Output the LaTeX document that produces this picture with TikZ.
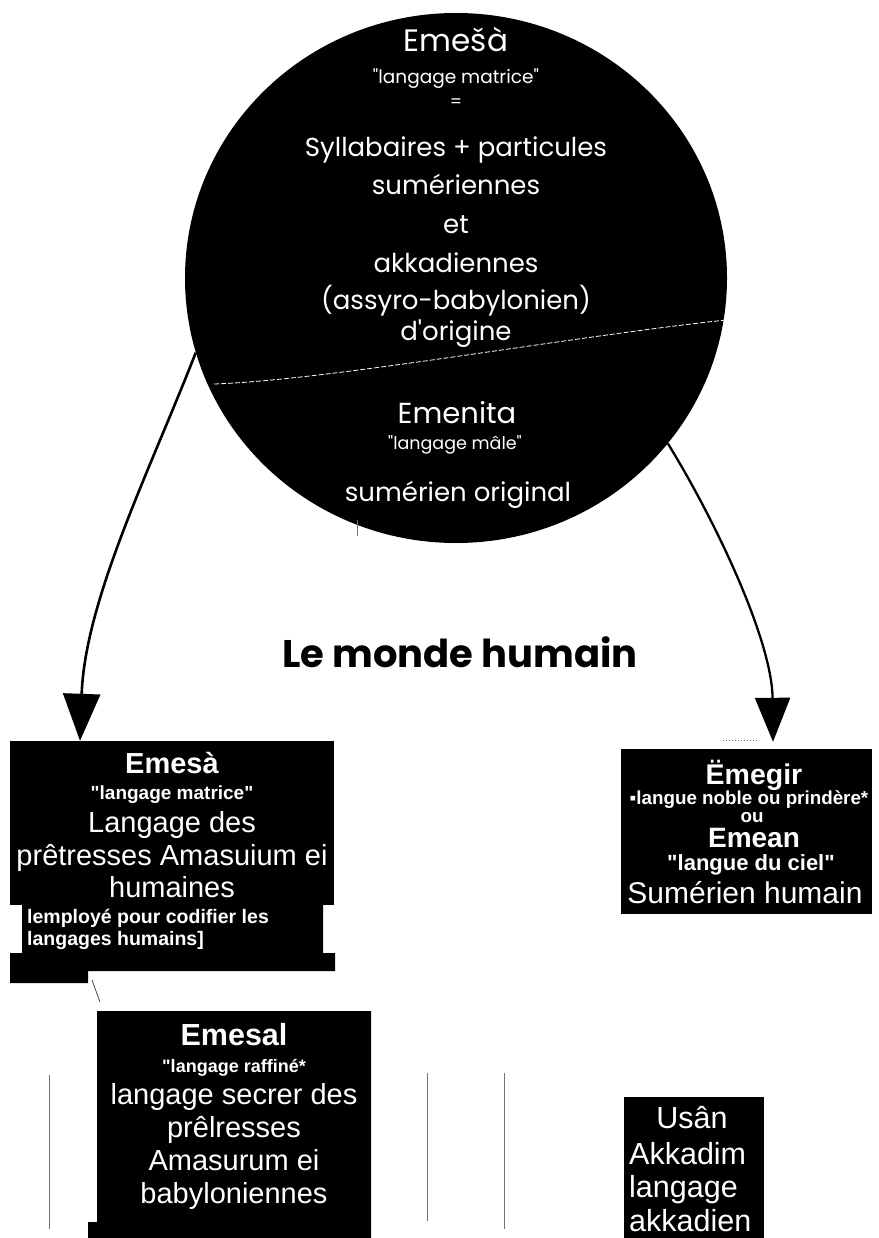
\documentclass[tikz,border=0pt]{standalone}
\usepackage{fontspec}
\setmainfont{Liberation Sans}[Ligatures=TeXOff]
\newfontfamily\pop{Poppins}[Ligatures=TeXOff]
\usetikzlibrary{arrows.meta,shapes.geometric}
\newcommand\myfs[1]{\fontsize{#1}{#1}\selectfont}
\begin{document}
\begin{tikzpicture}[x=1pt,y=-1pt,
  t/.style={anchor=base, inner sep=0, text=white, align=center},
  tl/.style={anchor=base west, inner sep=0, text=white},
  blk/.style={fill=black, draw=none, inner sep=0},
  arr/.style={line width=2.6pt, -{Triangle[length=47pt,width=37pt]}},
  arrR/.style={line width=2.3pt, -{Triangle[length=44pt,width=35pt]}},
  vline/.style={draw=black!55, line width=0.9pt}]
\useasboundingbox (0,0) rectangle (878,1238);

% ---- circle ----
\node[ellipse, fill=black, minimum width=542pt, minimum height=530pt, inner sep=0] (circ) at (456,278) {};
\draw[white, line width=0.8pt, dash pattern=on 5pt off 2pt]
  (214,384) .. controls (330,380) and (560,338) .. (726,320);
\node[t, font=\pop\myfs{31}] (c1) at (456,52) {Emešà};
\node[t, font=\pop\myfs{18.5}] (c2) at (456,84) {"langage matrice"};
\node[t, font=\pop\myfs{17}] (c3) at (456,108) {=};
\node[t, font=\pop\myfs{26}] (c4) at (456,157) {Syllabaires + particules};
\node[t, font=\pop\myfs{26}] (c5) at (456,195) {sumériennes};
\node[t, font=\pop\myfs{26}] (c6) at (456,234) {et};
\node[t, font=\pop\myfs{26}] (c7) at (456,273) {akkadiennes};
\node[t, font=\pop\myfs{26}] (c8) at (456,309) {(assyro-babylonien)};
\node[t, font=\pop\myfs{26}] (c9) at (456,340) {d'origine};
\node[t, font=\pop\myfs{29}] (c10) at (457,423) {Emenita};
\node[t, font=\pop\myfs{17.5}] (c11) at (455,449) {"langage mâle"};
\node[t, font=\pop\myfs{26}] (c12) at (458,501) {sumérien original};
\draw[vline] (357,520) -- (357,536);

% ---- title ----
\node[anchor=base, inner sep=0, font=\pop\bfseries\myfs{38.5}] (title) at (460,667) {Le monde humain};

% ---- left box Emesa ----
\node[blk, minimum width=324pt, minimum height=164pt] (emesa) at (172,823) {};
\fill[black] (22,905) -- (323,905) -- (323,953) -- (335,953) -- (335,971)
  -- (88,971) -- (88,983) -- (10,983) -- (10,953) -- (22,953) -- cycle;
\node[t, font=\bfseries\myfs{29}] (a1) at (172,773) {Emesà};
\node[t, font=\bfseries\myfs{19}] (a2) at (172,799) {"langage matrice"};
\node[t, font=\myfs{29}] (a3) at (172,832) {Langage des};
\node[t, font=\myfs{29}] (a4) at (172,865) {prêtresses Amasuium ei};
\node[t, font=\myfs{29}] (a5) at (172,897) {humaines};
\node[tl, font=\bfseries\myfs{19.5}] (a6) at (27,923) {lemployé pour codifier les};
\node[tl, font=\bfseries\myfs{19.5}] (a7) at (27,945) {langages humains]};
\coordinate (sl1) at (92,980);
\coordinate (sl2) at (100,1002);
\draw[black!70, line width=0.8pt] (sl1) -- (sl2);

% ---- Emesal box ----
\fill[black] (97,1011) -- (371,1011) -- (371,1238) -- (88,1238) -- (88,1222) -- (97,1222) -- cycle;
\node[t, font=\bfseries\myfs{30.5}] (b1) at (234,1045) {Emesal};
\node[t, font=\bfseries\myfs{18}] (b2) at (234,1072) {"langage raffiné*};
\node[t, font=\myfs{29}] (b3) at (234,1104) {langage secrer des};
\node[t, font=\myfs{29}] (b4) at (234,1137) {prêlresses};
\node[t, font=\myfs{29}] (b5) at (234,1170) {Amasurum ei};
\node[t, font=\myfs{29}] (b6) at (234,1203) {babyloniennes};

% ---- vertical lines ----
\draw[vline] (49,1075) -- (49,1229);
\draw[vline] (427,1073) -- (427,1221);
\draw[vline] (504,1073) -- (504,1229);

% ---- right box Emegir ----
\node[blk, minimum width=251pt, minimum height=165pt] (emegir) at (746.5,831.5) {};
\node[t, font=\bfseries\myfs{28.5}] (r1) at (754,784) {Ëmegir};
\node[t, font=\bfseries\myfs{18.8}] (r2) at (749,804) {▪langue noble ou prindère*};
\node[t, font=\bfseries\myfs{18.8}] (r3) at (752,822) {ou};
\node[t, font=\bfseries\myfs{28}] (r4) at (754,847) {Emean};
\node[t, font=\bfseries\myfs{22}] (r5) at (751,870) {"langue du ciel"};
\node[t, font=\myfs{30}] (r6) at (745,903) {Sumérien humain};
\draw[black!60, line width=1pt, dotted] (723,740) -- (758,740);

% ---- Usan box ----
\node[blk, minimum width=140pt, minimum height=141pt] (usan) at (694,1167.5) {};
\node[t, font=\myfs{30.5}] (u1) at (692,1128) {Usân};
\node[tl, font=\myfs{30.5}] (u2) at (629,1164) {Akkadim};
\node[tl, font=\myfs{30.5}] (u3) at (629,1197) {langage};
\node[tl, font=\myfs{30.5}] (u4) at (629,1231) {akkadien};

% ---- arrows ----
\draw[arr] (circ.196.6) .. controls (150,470) and (85,600) .. ([xshift=-92pt]emesa.north);
\draw[arrR] (circ.322.3) .. controls (715,520) and (772,640) .. ([xshift=26.5pt,yshift=7pt]emegir.north);
\end{tikzpicture}
\end{document}
